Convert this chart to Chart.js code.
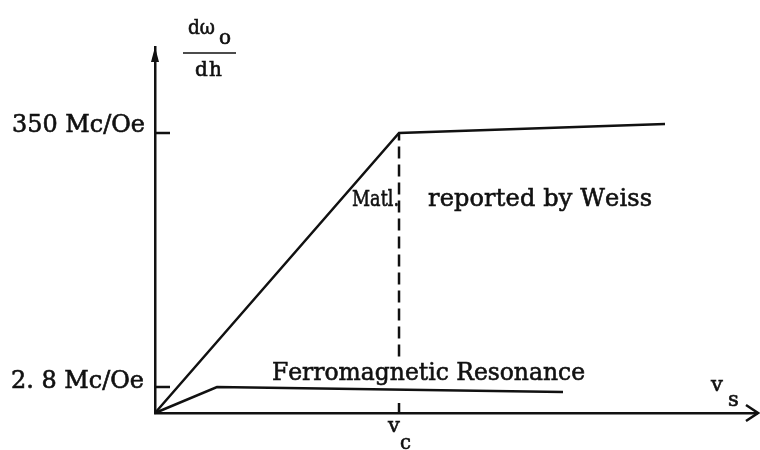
<!DOCTYPE html>
<html>
<head>
<meta charset="utf-8">
<script src="https://cdn.jsdelivr.net/npm/chart.js@4.4.1/dist/chart.umd.min.js"></script>
<style>
html, body { margin: 0; padding: 0; background: #fff; }
#caja { width: 760px; height: 450px; }
</style>
</head>
<body>
<div id="caja"><canvas id="grafico" width="760" height="450"></canvas></div>
<script>
// Valores del esquema: x en unidades de v_c, y en Mc/Oe (eje logaritmico)
const weissX = [0, 1, 2.09];
const weissY = [1.708, 350, 415];
const ferroX = [0, 0.254, 1.672];
const ferroY = [1.708, 2.8, 2.55];
const corteX = [1, 1];
const corteY = [5, 350];
const yTicks = [2.8, 350];
const yTickLabels = ['2. 8 Mc/Oe', '350 Mc/Oe'];
const xTicks = [1];
const xMin = 0, xMax = 2.467;
const yMin = 1.708, yMax = 1795;

const FUENTE = '"DejaVu Serif", "Liberation Serif", serif';
const NEGRO = '#111';

function puntos(xs, ys) {
    return xs.map((x, i) => ({ x: x, y: ys[i] }));
}

// Texto ajustado a un ancho: letra por letra, espaciado o comprimido
function texto(ctx, str, x, y, size, ancho, alinear) {
    ctx.font = size + 'px ' + FUENTE;
    ctx.textAlign = 'left';
    ctx.textBaseline = 'alphabetic';
    ctx.lineWidth = 0.6;
    const letras = Array.from(str);
    const anchos = letras.map(c => ctx.measureText(c).width);
    const w = anchos.reduce((a, b) => a + b, 0);
    const x0 = alinear === 'right' ? x - ancho : x;
    let f = 1, sp = 0;
    if (w > ancho) {
        f = ancho / w;
    } else if (letras.length > 1) {
        sp = (ancho - w) / (letras.length - 1);
    }
    ctx.save();
    ctx.translate(x0, y);
    ctx.scale(f, 1);
    let cx = 0;
    letras.forEach((c, i) => {
        ctx.fillText(c, cx, 0);
        ctx.strokeText(c, cx, 0);
        cx += anchos[i] + sp;
    });
    ctx.restore();
}

// Ejes: marcas, etiquetas, flechas y textos
const dibujoEjes = {
    id: 'dibujoEjes',
    afterDraw(chart) {
        const ctx = chart.ctx;
        const sx = chart.scales.x;
        const sy = chart.scales.y;
        const area = chart.chartArea;
        ctx.save();
        ctx.strokeStyle = NEGRO;
        ctx.fillStyle = NEGRO;

        // marcas del eje y y sus etiquetas
        yTicks.forEach((v, i) => {
            const py = sy.getPixelForValue(v);
            ctx.lineWidth = 2.5;
            ctx.beginPath();
            ctx.moveTo(area.left, py);
            ctx.lineTo(area.left + 15, py);
            ctx.stroke();
            texto(ctx, yTickLabels[i], area.left - 11 + i, py + 1 - i * 2, 24, 133, 'right');
        });

        // marca v_c
        xTicks.forEach(v => {
            const px = sx.getPixelForValue(v);
            ctx.lineWidth = 2.5;
            ctx.beginPath();
            ctx.moveTo(px, area.bottom);
            ctx.lineTo(px, area.bottom - 10);
            ctx.stroke();
            texto(ctx, 'v', px - 11, area.bottom + 19, 21, 12);
            texto(ctx, 'c', px + 1, area.bottom + 36, 21, 11);
        });

        // flecha del eje y
        ctx.beginPath();
        ctx.moveTo(area.left, area.top);
        ctx.lineTo(area.left - 4, area.top + 15);
        ctx.lineTo(area.left + 4, area.top + 15);
        ctx.closePath();
        ctx.fill();

        // flecha del eje x
        ctx.lineWidth = 2.5;
        ctx.beginPath();
        ctx.moveTo(area.right - 11, area.bottom - 8);
        ctx.lineTo(area.right + 1, area.bottom);
        ctx.lineTo(area.right - 11, area.bottom + 8);
        ctx.stroke();

        // titulo del eje y: d(omega_o)/dh
        texto(ctx, 'd\u03C9', 188, 34, 20, 27);
        texto(ctx, 'o', 219, 44, 20, 12);
        texto(ctx, 'dh', 195, 76, 20, 27);
        ctx.lineWidth = 1.6;
        ctx.beginPath();
        ctx.moveTo(183, 53);
        ctx.lineTo(236, 53);
        ctx.stroke();

        // titulo del eje x: v_s
        texto(ctx, 'v', 711, 391, 21, 14);
        texto(ctx, 's', 728, 406, 21, 11);

        // rotulos de las curvas
        texto(ctx, 'Matl.', 352, 206, 23, 47);
        texto(ctx, 'reported by Weiss', 428, 206, 24, 224);
        texto(ctx, 'Ferromagnetic Resonance', 272, 380, 24, 313);
        ctx.restore();
    }
};

const estiloLinea = {
    borderColor: NEGRO,
    borderWidth: 2.5,
    pointRadius: 0,
    showLine: true,
    tension: 0,
    clip: false
};

const caracteristicas = {
    type: 'scatter',
    data: {
        datasets: [
            Object.assign({ label: 'Matl. reported by Weiss', data: puntos(weissX, weissY) }, estiloLinea),
            Object.assign({ label: 'Ferromagnetic Resonance', data: puntos(ferroX, ferroY) }, estiloLinea),
            Object.assign({ label: 'v_c', data: puntos(corteX, corteY) }, estiloLinea, { borderDash: [12, 6] })
        ]
    },
    options: {
        responsive: false,
        animation: false,
        layout: { padding: { top: 47, right: 3, left: 0, bottom: 0 } },
        plugins: { legend: { display: false }, tooltip: { enabled: false } },
        scales: {
            x: {
                type: 'linear',
                min: xMin,
                max: xMax,
                grid: { display: false },
                border: { display: true, color: NEGRO, width: 2.5 },
                ticks: { display: false },
                afterFit(s) { s.height = 37; }
            },
            y: {
                type: 'logarithmic',
                min: yMin,
                max: yMax,
                grid: { display: false },
                border: { display: true, color: NEGRO, width: 2.5 },
                ticks: { display: false },
                afterFit(s) { s.width = 155; }
            }
        }
    },
    plugins: [dibujoEjes]
};

const myChart = new Chart(document.getElementById('grafico'), caracteristicas);
</script>
</body>
</html>
